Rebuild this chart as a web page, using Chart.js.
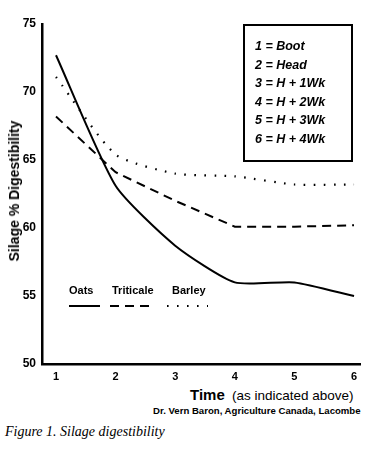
<!DOCTYPE html>
<html>
<head>
<meta charset="utf-8">
<script src="https://cdn.jsdelivr.net/npm/chart.js@4.4.0/dist/chart.umd.min.js"></script>
<style>
  body { margin: 0; background: #fff; width: 368px; height: 453px; position: relative; overflow: hidden; font-family: "Liberation Sans", Arial, sans-serif; color: #000; }
  #wrap { position: absolute; left: 0; top: 0; width: 368px; height: 380px; }
  .txt { position: absolute; white-space: nowrap; }
  #stages { position: absolute; left: 243px; top: 24px; width: 106px; height: 134px; border: 2px solid #000; }
  #stages div { position: absolute; left: 10px; font: italic bold 12.5px "Liberation Sans", Arial, sans-serif; }
  .leg { font: bold 11px "Liberation Sans", Arial, sans-serif; top: 284px; }
</style>
</head>
<body>
<div id="wrap"><canvas id="silageChart" width="368" height="380"></canvas></div>

<div class="txt" style="left:14px; top:191px; transform: translate(-50%, -50%) rotate(-90deg); font: bold 14px 'Liberation Sans', Arial, sans-serif;">Silage % Digestibility</div>

<div id="stages"></div>

<div class="txt leg" style="left:69px;">Oats</div>
<div class="txt leg" style="left:112px;">Triticale</div>
<div class="txt leg" style="left:172px;">Barley</div>

<div class="txt" style="left:190px; top:386px; font: bold 15px 'Liberation Sans', Arial, sans-serif;">Time</div>
<div class="txt" style="left:232px; top:388px; font: 13.5px 'Liberation Sans', Arial, sans-serif;">(as indicated above)</div>
<div class="txt" style="left:153px; top:405px; font: bold 9.6px 'Liberation Sans', Arial, sans-serif;">Dr. Vern Baron, Agriculture Canada, Lacombe</div>
<div class="txt" style="left:5px; top:424px; font: italic 14px 'Liberation Serif', 'Times New Roman', serif;">Figure 1. Silage digestibility</div>

<script>
// Data
const times = [1, 2, 3, 4, 5, 6];
const oats = [72.7, 63.1, 58.7, 56.0, 56.0, 55.0];
const triticale = [68.2, 64.1, 62.0, 60.1, 60.1, 60.2];
const barley = [71.1, 65.4, 64.0, 63.8, 63.2, 63.2];
const stageLabels = ['1 = Boot', '2 = Head', '3 = H + 1Wk', '4 = H + 2Wk', '5 = H + 3Wk', '6 = H + 4Wk'];
const yTicks = [50, 55, 60, 65, 70, 75];

// stage key box
const stagesBox = document.getElementById('stages');
stageLabels.forEach((s, i) => {
    const d = document.createElement('div');
    d.textContent = s;
    d.style.top = (13 + i * 18.5) + 'px';
    stagesBox.appendChild(d);
});

function points(values) {
    return times.map((t, i) => ({ x: t, y: values[i] }));
}

// little line samples under the Oats / Triticale / Barley labels
const legendLines = {
    id: 'legendLines',
    afterDraw(chart) {
        const ctx = chart.ctx;
        const y = 306;
        const samples = [
            { from: 69, to: 100, dash: [], width: 2 },
            { from: 110, to: 151, dash: [9, 6], width: 2 },
            { from: 167, to: 208, dash: [1.6, 8.4], width: 2.2 }
        ];
        ctx.save();
        ctx.strokeStyle = '#000';
        samples.forEach(s => {
            ctx.beginPath();
            ctx.lineWidth = s.width;
            ctx.setLineDash(s.dash);
            ctx.moveTo(s.from, y);
            ctx.lineTo(s.to, y);
            ctx.stroke();
        });
        ctx.restore();
    }
};

const font = { family: "'Liberation Sans', Arial, sans-serif", weight: 'bold' };

const ctx = document.getElementById('silageChart').getContext('2d');
const silageChart = new Chart(ctx, {
    type: 'line',
    data: {
        datasets: [{
            label: 'Oats',
            data: points(oats),
            borderColor: '#000',
            borderWidth: 2,
            tension: 0.2,
            pointRadius: 0
        }, {
            label: 'Triticale',
            data: points(triticale),
            borderColor: '#000',
            borderWidth: 2,
            borderDash: [9, 6],
            tension: 0,
            pointRadius: 0
        }, {
            label: 'Barley',
            data: points(barley),
            borderColor: '#000',
            borderWidth: 2.2,
            borderDash: [1.6, 8.4],
            tension: 0.2,
            pointRadius: 0
        }]
    },
    options: {
        responsive: false,
        animation: false,
        devicePixelRatio: 1,
        layout: { padding: { top: 24, right: 8, left: 0, bottom: 0 } },
        plugins: {
            legend: { display: false },
            tooltip: { enabled: false }
        },
        scales: {
            x: {
                type: 'linear',
                min: 0.765,
                max: 6.1,
                grid: { display: false, drawTicks: false },
                border: { display: true, color: '#000', width: 2.5 },
                afterBuildTicks: scale => { scale.ticks = times.map(v => ({ value: v })); },
                afterFit: scale => { scale.height = 16; },
                ticks: { color: '#000', padding: 6, font: { ...font, size: 11 } }
            },
            y: {
                min: 50,
                max: 75,
                grid: { display: false, drawTicks: false },
                border: { display: true, color: '#000', width: 2.5 },
                afterBuildTicks: scale => { scale.ticks = yTicks.map(v => ({ value: v })); },
                afterFit: scale => { scale.width = 42; },
                ticks: { color: '#000', padding: 6, font: { ...font, size: 12 } }
            }
        }
    },
    plugins: [legendLines]
});
</script>
</body>
</html>
